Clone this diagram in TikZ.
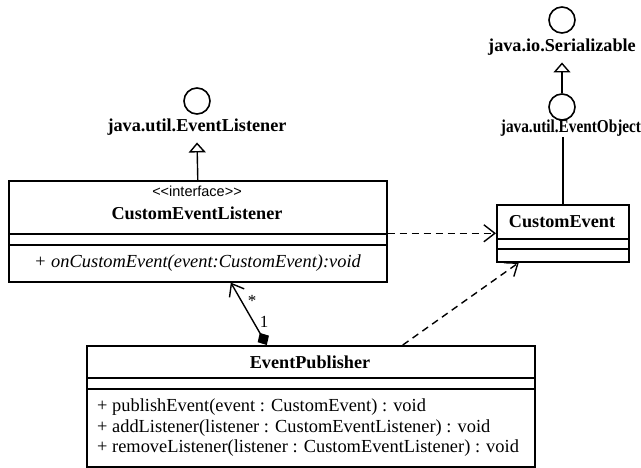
\documentclass[tikz,border=0pt]{standalone}
\usepackage{fontspec}
\setmainfont{Liberation Serif}
\setsansfont{Liberation Sans}
\usetikzlibrary{arrows.meta,calc}

\tikzset{
  classbox/.style={draw, line width=1.6pt, inner sep=0pt, anchor=north west},
  divider/.style={line width=1.4pt},
  lolli/.style={circle, draw, line width=1.6pt, minimum size=26pt, inner sep=0pt},
  ifname/.style={font=\fontsize{18.2}{20}\selectfont\bfseries, inner sep=1pt},
  cname/.style={font=\fontsize{18.2}{20}\selectfont\bfseries},
  stereo/.style={font=\sffamily\fontsize{14.5}{16}\selectfont},
  member/.style={font=\fontsize{18.4}{20}\selectfont, anchor=west, inner sep=0pt},
  realize/.style={line width=1.4pt, -{Triangle[open, length=10pt, width=17pt, line width=1.4pt]}},
  depend/.style={line width=1.4pt, dash pattern=on 7pt off 5pt,
                 -{Straight Barb[length=11pt, width=17pt, line width=1.4pt]}},
  compose/.style={line width=1.4pt,
                  {Diamond[length=14pt, width=13pt]}-{Straight Barb[length=11pt, width=17pt, line width=1.4pt]}},
  mult/.style={font=\fontsize{17}{18}\selectfont, inner sep=0pt}
}

\begin{document}
\begin{tikzpicture}[x=1pt, y=-1pt]
\useasboundingbox (0,0) rectangle (641,468);

% interface CustomEventListener
\node[classbox, minimum width=378pt, minimum height=101pt] (iface) at (8,180) {};
\draw[divider] (iface.west |- 0,234) -- (iface.east |- 0,234);
\draw[divider] (iface.west |- 0,245) -- (iface.east |- 0,245);
\node[stereo] (ifst) at (197,191) {<\kern0pt<interface>\kern0pt>};
\node[cname] (ifnm) at (197,213) {CustomEventListener};
\node[member, font=\fontsize{18.4}{20}\selectfont\itshape] (ifop) at (34,263)
  {+ onCustomEvent(event:CustomEvent):void};

% class CustomEvent
\node[classbox, minimum width=132pt, minimum height=57pt] (ce) at (496,204) {};
\draw[divider] (ce.west |- 0,239) -- (ce.east |- 0,239);
\draw[divider] (ce.west |- 0,249) -- (ce.east |- 0,249);
\node[cname] (cenm) at (562,222) {CustomEvent};

% class EventPublisher
\node[classbox, minimum width=448pt, minimum height=121pt] (pub) at (86,345) {};
\draw[divider] (pub.west |- 0,378) -- (pub.east |- 0,378);
\draw[divider] (pub.west |- 0,389) -- (pub.east |- 0,389);
\node[cname] (pubnm) at (310,362) {EventPublisher};
\node[member] (m1) at (97,407) {+ publishEvent(event : CustomEvent) : void};
\node[member] (m2) at (97,428) {+ addListener(listener : CustomEventListener) : void};
\node[member] (m3) at (97,448) {+ removeListener(listener : CustomEventListener) : void};

% interface java.util.EventListener
\node[lolli] (el) at (197,101) {};
\node[ifname] (elnm) at (197,127) {java.util.EventListener};

% interfaces java.io.Serializable and java.util.EventObject
\node[lolli] (ser) at (562,20) {};
\node[ifname] (sernm) at (562,47) {java.io.Serializable};
\node[lolli] (eo) at (562,107) {};
\node[ifname, font=\fontsize{18.2}{20}\selectfont\bfseries\addfontfeature{FakeStretch=0.84}]
  (eonm) at (571,128) {java.util.EventObject};

% realizations
\draw[realize] (iface.north) -- ([yshift=-6pt]elnm.south);
\draw[realize] (eo.north) -- ([yshift=-6pt]sernm.south);
\draw[line width=1.4pt] (ce.north) -- (ce.north |- eonm.south);

% dependencies
\draw[depend] (iface.east |- ce.west) -- (ce.west);
\draw[depend] ([xshift=92pt]pub.north) -- ([xshift=-44pt]ce.south);

% composition
\draw[compose] ([xshift=-44pt]pub.north) -- ([xshift=33pt]iface.south);
\node[mult] (mstar) at (252,301) {*};
\node[mult] (mone) at (264,322) {1};
\end{tikzpicture}
\end{document}
